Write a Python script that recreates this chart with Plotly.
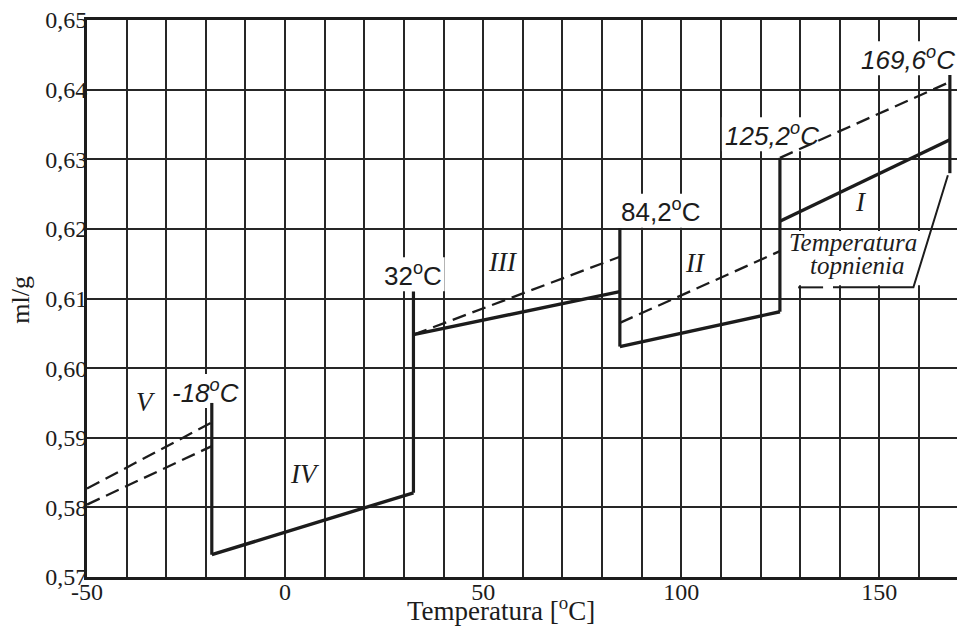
import plotly.graph_objects as go

# ---------------- data ----------------
x_tick_vals = [-50, 0, 50, 100, 150]
x_tick_text = ["-50", "0", "50", "100", "150"]
y_tick_vals = [0.57, 0.58, 0.59, 0.60, 0.61, 0.62, 0.63, 0.64, 0.65]
y_tick_text = ["0,57", "0,58", "0,59", "0,60", "0,61", "0,62", "0,63", "0,64", "0,65"]

# phase transitions (as drawn) and their labels
trans_text = ["-18", "32", "84,2", "125,2", "169,6"]
trans_x = [-18.5, 32.4, 84.5, 124.9, 167.8]
trans_y_bottom = [0.5732, 0.5821, 0.6031, 0.6081, 0.6280]
trans_y_top = [0.5950, 0.6110, 0.6201, 0.6302, 0.6421]

# solid segments (stable phases)
phase_names = ["IV", "III", "II", "I"]
solid_x_start = [-18.5, 32.4, 84.5, 124.9]
solid_x_end = [32.4, 84.5, 124.9, 167.8]
solid_y_start = [0.5732, 0.6048, 0.6031, 0.6211]
solid_y_end = [0.5821, 0.6110, 0.6081, 0.6328]

# dashed segments (metastable extensions, phase V)
dashed_x_start = [-50, -50, 32.4, 84.5, 124.9]
dashed_x_end = [-18.5, -18.5, 84.5, 124.9, 167.8]
dashed_y_start = [0.5827, 0.5804, 0.6048, 0.6065, 0.6302]
dashed_y_end = [0.5922, 0.5888, 0.6160, 0.6168, 0.6411]

# ---------------- styles ----------------
INK = "#1c1c1c"
GRID = "#262626"
SERIF = "Liberation Serif"
SANS = "Liberation Sans"


def segs(x0, x1, y0, y1):
    xs, ys = [], []
    for a, b, c, d in zip(x0, x1, y0, y1):
        xs += [a, b, None]
        ys += [c, d, None]
    return xs, ys


fig = go.Figure()

sx, sy = segs(solid_x_start, solid_x_end, solid_y_start, solid_y_end)
fig.add_trace(go.Scatter(x=sx, y=sy, mode="lines",
                         line=dict(color=INK, width=3.4), hoverinfo="skip"))

vx, vy = segs(trans_x, trans_x, trans_y_bottom, trans_y_top)
fig.add_trace(go.Scatter(x=vx, y=vy, mode="lines",
                         line=dict(color=INK, width=3.2), hoverinfo="skip"))

dx, dy = segs(dashed_x_start, dashed_x_end, dashed_y_start, dashed_y_end)
fig.add_trace(go.Scatter(x=dx, y=dy, mode="lines",
                         line=dict(color=INK, width=2.3, dash="14px,7px"),
                         hoverinfo="skip"))

# leader line + underline of the "Temperatura topnienia" note
fig.add_trace(go.Scatter(x=[167.3, 158.6, 138.3, None, 135.8, 129.5],
                         y=[0.6277, 0.6116, 0.6116, None, 0.6116, 0.6116],
                         mode="lines", line=dict(color=INK, width=2),
                         hoverinfo="skip"))

shapes = []
annotations = []

# white mask behind the melting-temperature note
shapes.append(dict(type="rect", layer="between", xref="x", yref="y",
                   x0=127.4, x1=167.9, y0=0.6119, y1=0.6197,
                   fillcolor="white", line=dict(width=0)))

label_pos = [(-20.0, 0.5967), (32.2, 0.6135), (94.8, 0.6226), (123.0, 0.6336), (157.3, 0.6445)]
label_w = [74, 64, 86, 101, 99]
label_italic = [True, False, False, True, True]
for t, (lx, ly), w, it in zip(trans_text, label_pos, label_w, label_italic):
    shapes.append(dict(type="rect", layer="between", xref="x", yref="y",
                       xsizemode="pixel", ysizemode="pixel",
                       xanchor=lx, yanchor=ly, x0=-w / 2, x1=w / 2, y0=-17, y1=17,
                       fillcolor="white", line=dict(width=0)))
    txt = f"{t}<sup>o</sup>C"
    if it:
        txt = f"<i>{txt}</i>"
    annotations.append(dict(x=lx, y=ly, xref="x", yref="y", text=txt, showarrow=False,
                            xanchor="center", yanchor="middle",
                            font=dict(family=SANS, size=26, color=INK)))

roman_pos = {"V": (-35.2, 0.5952), "IV": (5.0, 0.5848), "III": (55.1, 0.6152),
             "II": (103.7, 0.6151), "I": (145.4, 0.6238)}
for name, (rx, ry) in roman_pos.items():
    annotations.append(dict(x=rx, y=ry, xref="x", yref="y", text=f"<i>{name}</i>",
                            showarrow=False, xanchor="center", yanchor="middle",
                            font=dict(family=SERIF, size=27, color=INK)))

annotations.append(dict(x=143.4, y=0.6180, xref="x", yref="y", text="<i>Temperatura</i>",
                        showarrow=False, xanchor="center", yanchor="middle",
                        font=dict(family=SERIF, size=25, color=INK)))
annotations.append(dict(x=144.3, y=0.6147, xref="x", yref="y", text="<i>topnienia</i>",
                        showarrow=False, xanchor="center", yanchor="middle",
                        font=dict(family=SERIF, size=25, color=INK)))

# axis titles
annotations.append(dict(x=0.476, y=-0.058, xref="paper", yref="paper",
                        text="Temperatura [<sup>o</sup>C]", showarrow=False,
                        xanchor="center", yanchor="middle",
                        font=dict(family=SERIF, size=27, color=INK)))
annotations.append(dict(x=-0.0764, y=0.497, xref="paper", yref="paper",
                        text="ml/g", showarrow=False, textangle=-90,
                        xanchor="center", yanchor="middle",
                        font=dict(family=SERIF, size=26, color=INK)))

tick_font = dict(family=SERIF, size=24, color=INK)

fig.update_layout(
    width=957, height=626,
    margin=dict(l=87, r=0, t=20, b=49, pad=0),
    paper_bgcolor="white", plot_bgcolor="white",
    font=dict(family=SERIF, size=24, color=INK),
    showlegend=False,
    shapes=shapes, annotations=annotations,
    xaxis=dict(range=[-50, 169.6], tickvals=x_tick_vals, ticktext=x_tick_text,
               showgrid=True, gridcolor=GRID, gridwidth=2, zeroline=False,
               showline=True, linecolor=INK, linewidth=3, mirror=True,
               ticks="", tickfont=tick_font,
               ticklabelstandoff=-9,
               minor=dict(tickmode="linear", tick0=-50, dtick=10, showgrid=True,
                          gridcolor=GRID, gridwidth=2, ticks=""),
               fixedrange=True),
    yaxis=dict(range=[0.57, 0.65], tickvals=y_tick_vals, ticktext=y_tick_text,
               showgrid=True, gridcolor=GRID, gridwidth=2, zeroline=False,
               showline=True, linecolor=INK, linewidth=3, mirror=False,
               ticks="", tickfont=tick_font,
               ticklabelstandoff=-8,
               fixedrange=True),
)

fig.write_html("out.html", config={"displayModeBar": False},
               post_script="document.body.style.margin='0';document.body.style.overflow='hidden';")
